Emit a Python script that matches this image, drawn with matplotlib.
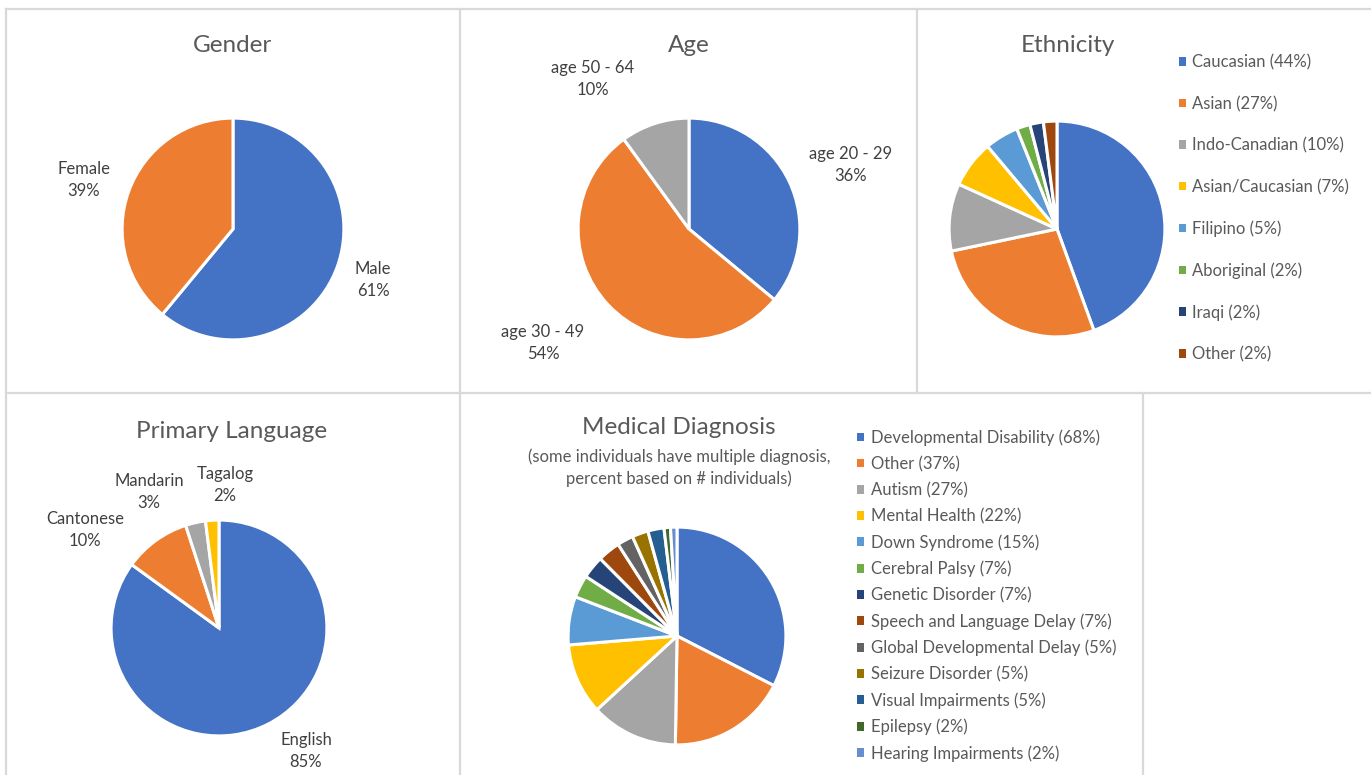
import matplotlib
matplotlib.use("Agg")
import matplotlib.pyplot as plt
import matplotlib.patches as mpatches
from matplotlib.lines import Line2D

plt.rcParams['font.family'] = ['Lato', 'DejaVu Sans']

# -----------------------------
# Data
# -----------------------------
gender_labels = ["Male", "Female"]
gender_pct = [61, 39]

age_labels = ["age 20 - 29", "age 30 - 49", "age 50 - 64"]
age_pct = [36, 54, 10]

ethnicity_labels = ["Caucasian", "Asian", "Indo-Canadian", "Asian/Caucasian",
                    "Filipino", "Aboriginal", "Iraqi", "Other"]
ethnicity_pct = [44, 27, 10, 7, 5, 2, 2, 2]

language_labels = ["English", "Cantonese", "Mandarin", "Tagalog"]
language_pct = [85, 10, 3, 2]

diagnosis_labels = ["Developmental Disability", "Other", "Autism", "Mental Health",
                    "Down Syndrome", "Cerebral Palsy", "Genetic Disorder",
                    "Speech and Language Delay", "Global Developmental Delay",
                    "Seizure Disorder", "Visual Impairments", "Epilepsy",
                    "Hearing Impairments"]
diagnosis_pct = [68, 37, 27, 22, 15, 7, 7, 7, 5, 5, 5, 2, 2]

# office palette
colors = ["#4472C4", "#ED7D31", "#A5A5A5", "#FFC000", "#5B9BD5", "#70AD47",
          "#264478", "#9E480E", "#636363", "#997300", "#255E91", "#43682B",
          "#698ED0"]

TEXT = "#595959"
LABEL = "#404040"
BORDER = "#D9D9D9"
FS = 12
W, H = 1371, 775

fig = plt.figure(figsize=(W / 100, H / 100), dpi=100)


def fx(x):
    return x / W


def fy(y):
    return 1 - y / H


def draw_pie(cx, cy, r, values, n_colors):
    ax = fig.add_axes([fx(cx - r), fy(cy + r), 2 * r / W, 2 * r / H])
    wedges, _ = ax.pie(values, colors=colors[:n_colors], startangle=90,
                       counterclock=False, radius=1,
                       wedgeprops=dict(edgecolor="white", linewidth=2.2))
    # pie() pads the limits, take them back so the pie fills the axes
    ax.set_xlim(-1.01, 1.01)
    ax.set_ylim(-1.01, 1.01)
    ax.axis("off")
    return wedges


def label(x, y, name, pct):
    fig.text(fx(x), fy(y), f"{name}\n{pct}%", ha="center", va="center",
             fontsize=FS, color=LABEL, linespacing=1.4)


def title(x, y, s, size=17.5):
    fig.text(fx(x), fy(y), s, ha="center", va="center", fontsize=size, color=TEXT)


def legend(names, values, x, y, spacing):
    handles = [mpatches.Patch(facecolor=colors[i], edgecolor="none")
               for i in range(len(names))]
    texts = [f"{n} ({v}%)" for n, v in zip(names, values)]
    fig.legend(handles, texts, loc="upper left", bbox_to_anchor=(fx(x), fy(y)),
               frameon=False, fontsize=FS, labelcolor=TEXT,
               handlelength=0.42, handleheight=0.42, handletextpad=0.38,
               labelspacing=spacing, borderpad=0, borderaxespad=0)


# -----------------------------
# Table borders
# -----------------------------
for (x0, y0, x1, y1) in [(6, 9, W, 9), (6, 393, W, 393),
                         (6, 9, 6, H), (460, 9, 460, H),
                         (917, 9, 917, 393), (1143, 393, 1143, H)]:
    fig.add_artist(Line2D([fx(x0), fx(x1)], [fy(y0), fy(y1)],
                          color=BORDER, linewidth=1.6))

# -----------------------------
# Gender
# -----------------------------
title(233, 46, "Gender")
draw_pie(233, 229, 112, gender_pct, 2)
label(373, 280, gender_labels[0], gender_pct[0])
label(84, 180, gender_labels[1], gender_pct[1])

# -----------------------------
# Age
# -----------------------------
title(689, 46, "Age")
draw_pie(689, 229, 112, age_pct, 3)
label(851, 165, age_labels[0], age_pct[0])
label(543, 343, age_labels[1], age_pct[1])
label(593, 79, age_labels[2], age_pct[2])

# -----------------------------
# Ethnicity
# -----------------------------
title(1068, 46, "Ethnicity")
draw_pie(1057, 229, 109, ethnicity_pct, 8)
legend(ethnicity_labels, ethnicity_pct, 1178.5, 54.5, 1.52)

# -----------------------------
# Primary language
# -----------------------------
title(232, 431, "Primary Language")
draw_pie(219, 628, 109, language_pct, 4)
label(306, 751, language_labels[0], language_pct[0])
label(85, 530, language_labels[1], language_pct[1])
label(149, 492, language_labels[2], language_pct[2])
label(225, 485, language_labels[3], language_pct[3])

# -----------------------------
# Medical diagnosis
# -----------------------------
title(679, 428, "Medical Diagnosis")
fig.text(fx(679), fy(468), "(some individuals have multiple diagnosis,\npercent based on # individuals)",
         ha="center", va="center", fontsize=FS, color=TEXT, linespacing=1.38)
draw_pie(677, 636, 110, diagnosis_pct, 13)
legend(diagnosis_labels, diagnosis_pct, 857.5, 429.5, 0.595)

fig.savefig("out.png", dpi=100)
